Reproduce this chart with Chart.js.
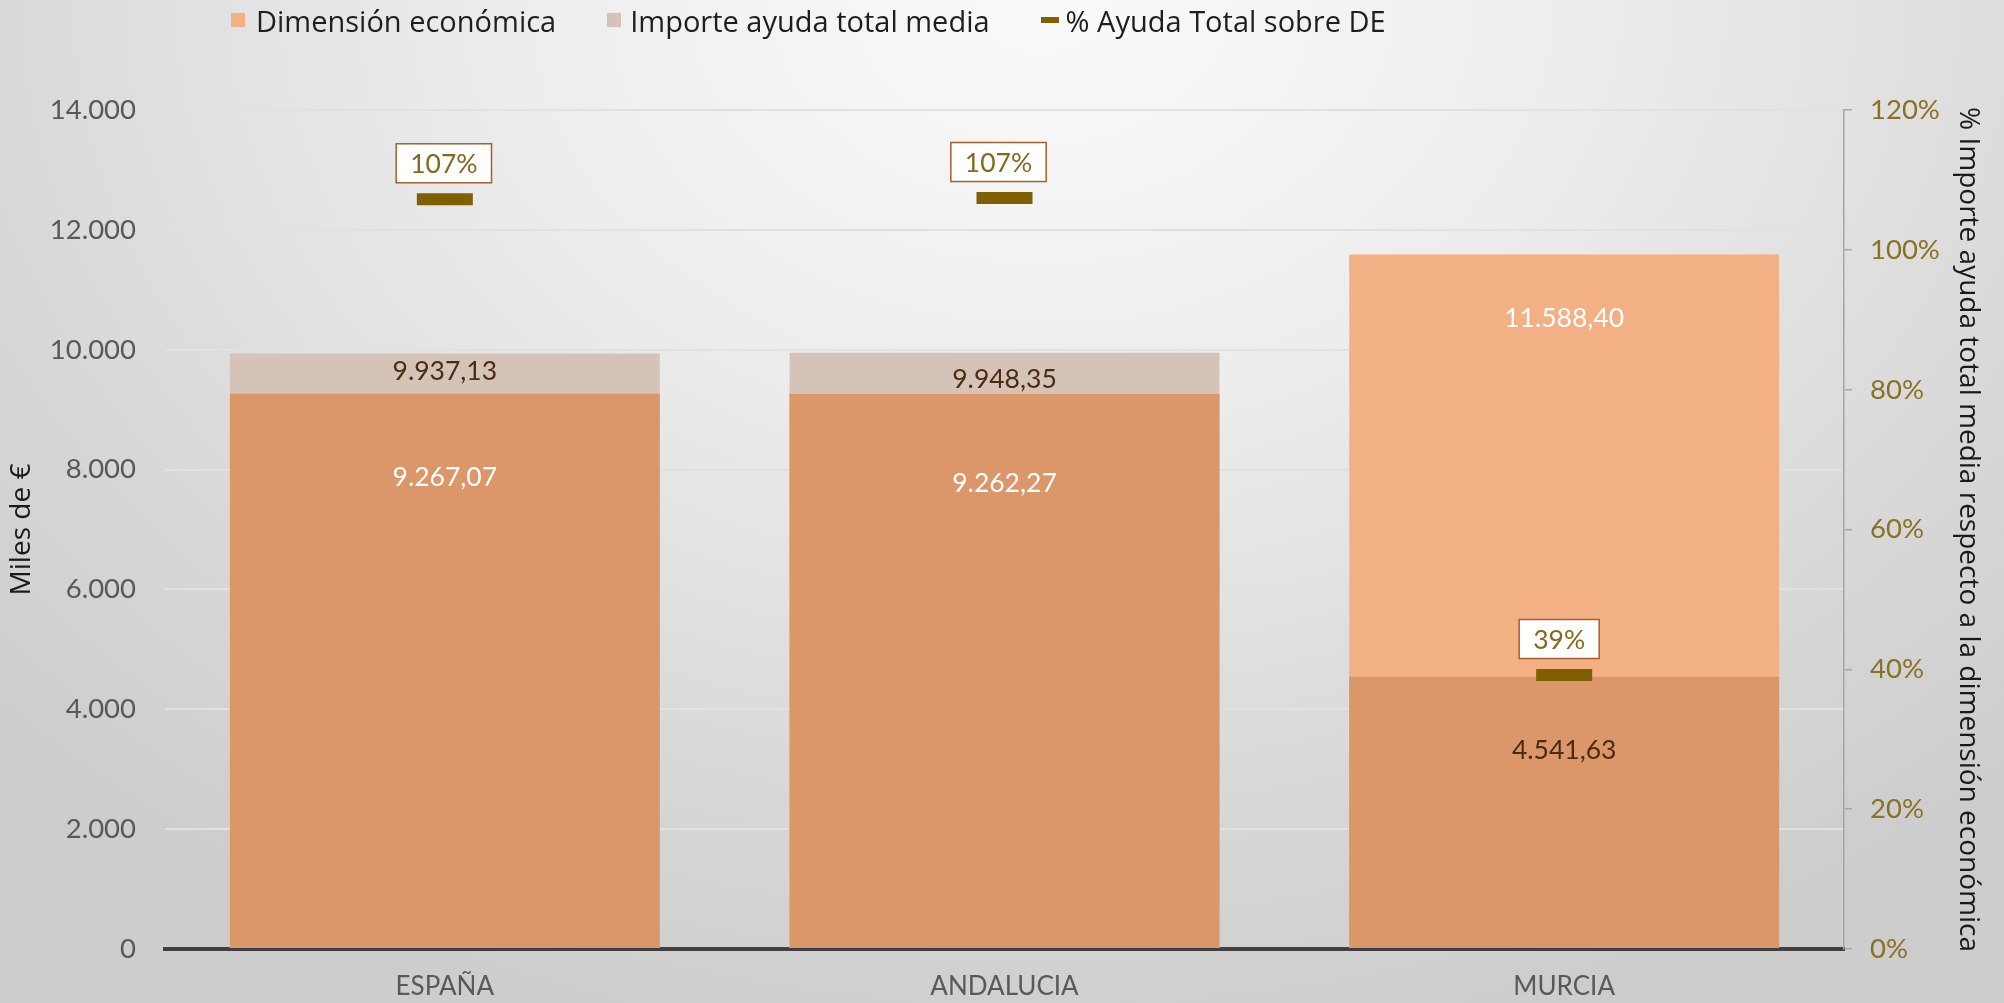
<!DOCTYPE html>
<html lang="es">
<head>
<meta charset="utf-8">
<title>Dimensión económica vs ayuda</title>
<script src="https://cdn.jsdelivr.net/npm/chart.js@4.4.1/dist/chart.umd.min.js"></script>
<style>
  html, body { margin: 0; padding: 0; }
  body { width: 2004px; height: 1003px; overflow: hidden; }
  .wrap {
    position: relative; width: 2004px; height: 1003px;
    background: radial-gradient(ellipse 70% 105% at 52% 0%, #fafafa 0%, #ececec 40%, #d9d9d9 75%, #cdcdcd 100%);
  }
  .wrap canvas { position: absolute; left: 0; top: 0; }
  #leyenda {
    position: absolute; left: 231px; top: 2px; margin: 0; padding: 0;
    list-style: none; display: flex; align-items: center;
    font-family: "Open Sans", sans-serif; font-size: 29px; color: #1e1e1e;
  }
  #leyenda li { display: flex; align-items: center; margin-right: 51px; height: 36px; }
</style>
</head>
<body>
<div class="wrap">
  <canvas id="grafico" width="2004" height="1003"></canvas>
  <ul id="leyenda"></ul>
</div>
<script>
const categorias = ['ESPAÑA', 'ANDALUCIA', 'MURCIA'];
const dimensionEconomica = [9267.07, 9262.27, 11588.40];
const importeAyuda = [9937.13, 9948.35, 4541.63];
const pctAyuda = [107.23, 107.41, 39.19];

// where the value labels sit below the top of each bar (px)
const bajadaDE = [84, 90, 64];
const bajadaImporte = [18, 27, 74];
const desplazaCaja = [-1, -6, -5];

// the part where both bars overlap gets its own darker tone
const solape = dimensionEconomica.map((v, i) => Math.min(v, importeAyuda[i]));

const C_DE = '#F3B084';
const C_IMP = '#D6C3B8';
const C_SOLAPE = '#DB966A';
const C_PCT = '#7F6000';

function fmtNum(v, dec) {
  const [ent, frac] = v.toFixed(dec).split('.');
  const miles = ent.replace(/\B(?=(\d{3})+(?!\d))/g, '.');
  return frac ? miles + ',' + frac : miles;
}

const etiquetas = {
  id: 'etiquetas',
  afterDatasetsDraw(c) {
    const ctx = c.ctx;
    ctx.save();
    ctx.font = '26.5px Lato';
    ctx.textAlign = 'center';
    ctx.textBaseline = 'middle';
    const mDE = c.getDatasetMeta(0);
    const mImp = c.getDatasetMeta(1);
    const mPct = c.getDatasetMeta(3);
    mDE.data.forEach((bar, i) => {
      ctx.fillStyle = '#ffffff';
      ctx.fillText(fmtNum(dimensionEconomica[i], 2), bar.x, bar.y + bajadaDE[i]);
    });
    mImp.data.forEach((bar, i) => {
      ctx.fillStyle = '#4a2c12';
      ctx.fillText(fmtNum(importeAyuda[i], 2), bar.x, bar.y + bajadaImporte[i]);
    });
    mPct.data.forEach((pt, i) => {
      const txt = Math.round(pctAyuda[i]) + '%';
      const w = ctx.measureText(txt).width + 28;
      const h = 39;
      const cx = pt.x + desplazaCaja[i];
      const cy = pt.y - 36;
      ctx.fillStyle = '#ffffff';
      ctx.fillRect(cx - w / 2, cy - h / 2, w, h);
      ctx.strokeStyle = '#A65E2E';
      ctx.lineWidth = 1.5;
      ctx.strokeRect(cx - w / 2, cy - h / 2, w, h);
      ctx.fillStyle = '#86691F';
      ctx.fillText(txt, cx, cy + 1);
    });
    ctx.restore();
  }
};

const htmlLegend = {
  id: 'htmlLegend',
  afterUpdate() {
    const ul = document.getElementById('leyenda');
    while (ul.firstChild) ul.firstChild.remove();
    const items = [
      { text: 'Dimensión económica', color: C_DE, w: 14, h: 14, gap: 11 },
      { text: 'Importe ayuda total media', color: C_IMP, w: 14, h: 14, gap: 9 },
      { text: '% Ayuda Total sobre DE', color: C_PCT, w: 18, h: 6, gap: 7 },
    ];
    items.forEach((item) => {
      const li = document.createElement('li');
      const box = document.createElement('span');
      box.style.display = 'block';
      box.style.width = item.w + 'px';
      box.style.height = item.h + 'px';
      box.style.backgroundColor = item.color;
      box.style.marginRight = item.gap + 'px';
      const label = document.createElement('span');
      label.appendChild(document.createTextNode(item.text));
      li.appendChild(box);
      li.appendChild(label);
      ul.appendChild(li);
    });
  }
};

const tickFont = { family: 'Lato', size: 27.5 };
const titleFont = { family: 'Open Sans', size: 28 };

new Chart(document.getElementById('grafico'), {
  type: 'bar',
  data: {
    labels: categorias,
    datasets: [
      {
        label: 'Dimensión económica',
        data: dimensionEconomica,
        backgroundColor: C_DE,
        grouped: false,
        order: 3,
      },
      {
        label: 'Importe ayuda total media',
        data: importeAyuda,
        backgroundColor: C_IMP,
        grouped: false,
        order: 3,
      },
      {
        label: 'solape',
        data: solape,
        backgroundColor: C_SOLAPE,
        grouped: false,
        order: 2,
      },
      {
        type: 'line',
        label: '% Ayuda Total sobre DE',
        data: pctAyuda,
        yAxisID: 'y2',
        showLine: false,
        pointStyle: 'line',
        pointRadius: 28,
        pointHoverRadius: 28,
        pointBorderWidth: 12,
        pointBorderColor: C_PCT,
        borderColor: C_PCT,
        backgroundColor: C_PCT,
        order: 0,
      },
    ],
  },
  options: {
    responsive: false,
    animation: false,
    categoryPercentage: 0.768,
    barPercentage: 1,
    layout: { padding: { top: 110, left: 0, right: 0, bottom: 0 } },
    plugins: {
      legend: { display: false },
      tooltip: { enabled: false },
    },
    scales: {
      x: {
        grid: { display: false, drawTicks: false },
        border: { color: '#404040', width: 4 },
        ticks: { color: '#595959', font: { family: 'Lato', size: 26 }, padding: 22 },
        afterFit: (s) => { s.height = 54; },
      },
      y: {
        min: 0,
        max: 14000,
        ticks: {
          stepSize: 2000,
          color: '#595959',
          font: tickFont,
          padding: 29,
          callback: (v) => fmtNum(v, 0),
        },
        grid: { color: '#e1e1e1', lineWidth: 2, drawTicks: false },
        border: { display: false },
        title: {
          display: true,
          text: 'Miles de €',
          color: '#1a1a1a',
          font: titleFont,
          padding: { top: 5, bottom: 0 },
        },
        afterFit: (s) => { s.width = 165; },
      },
      y2: {
        position: 'right',
        min: 0,
        max: 120,
        ticks: {
          stepSize: 20,
          color: '#8A7124',
          font: tickFont,
          padding: 18,
          callback: (v) => v + '%',
        },
        grid: { drawOnChartArea: false, drawTicks: true, tickLength: 8, color: '#a6a6a6', lineWidth: 1.5 },
        border: { color: '#a6a6a6', width: 1.5 },
        title: {
          display: true,
          text: '% Importe ayuda total media respecto a la dimensión económica',
          color: '#1a1a1a',
          font: titleFont,
          padding: { top: 19, bottom: 0 },
        },
        afterFit: (s) => { s.width = 160; },
      },
    },
  },
  plugins: [etiquetas, htmlLegend],
});
</script>
</body>
</html>
